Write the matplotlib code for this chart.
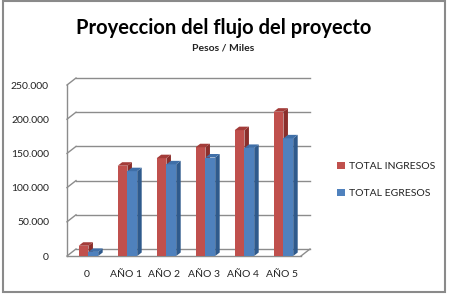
import matplotlib
matplotlib.use('Agg')
import matplotlib.pyplot as plt
from matplotlib.patches import Polygon, Rectangle, Patch

# Datos del gráfico
categorias = ['0', 'AÑO 1', 'AÑO 2', 'AÑO 3', 'AÑO 4', 'AÑO 5']
ingresos = [15000, 132000, 143000, 159000, 184000, 211000]
egresos = [6000, 124000, 134000, 144000, 158000, 172000]
series = ['TOTAL INGRESOS', 'TOTAL EGRESOS']
valores_y = [0, 50000, 100000, 150000, 200000, 250000]
etiquetas_y = ['0', '50.000', '100.000', '150.000', '200.000', '250.000']

plt.rcParams['font.family'] = ['Lato', 'DejaVu Sans']

W, H = 449, 300
fig = plt.figure(figsize=(W / 100, H / 100), dpi=100)

# Borde del área del gráfico
fig.patches.append(Rectangle((3 / W, 1 - 292 / H), 442 / W, 291 / H,
                             transform=fig.transFigure, fill=False,
                             edgecolor='#8a8a8a', lw=1.5))

# Ejes (plano frontal)
ax_l, ax_r, ax_b, ax_t = 67, 301, 256, 85
ax = fig.add_axes([ax_l / W, 1 - ax_b / H, (ax_r - ax_l) / W, (ax_b - ax_t) / H])
ax.set_xlim(-0.5, len(categorias) - 0.5)
ax.set_ylim(0, 250000)
for s in ax.spines.values():
    s.set_visible(False)

# conversión pixel -> datos
px_x = len(categorias) / (ax_r - ax_l)
px_y = 250000 / (ax_b - ax_t)
dX, dY = 9 * px_x, 7 * px_y        # profundidad de las paredes
bX, bY = 4.5 * px_x, 3.5 * px_y    # profundidad de las barras

x0, x1 = -0.5, len(categorias) - 0.5
gris = '#8c8c8c'

# pared del fondo y pared lateral
for v in valores_y:
    ax.plot([x0 + dX, x1 + dX], [v + dY, v + dY], color=gris, lw=1, clip_on=False, zorder=1)
    ax.plot([x0, x0 + dX], [v, v + dY], color=gris, lw=1, clip_on=False, zorder=1)
ax.plot([x0, x0], [0, 250000], color=gris, lw=1, clip_on=False, zorder=1)
# piso
ax.plot([x0, x1], [0, 0], color=gris, lw=1, clip_on=False, zorder=1)
ax.plot([x1, x1 + dX], [0, dY], color=gris, lw=1, clip_on=False, zorder=1)

colores = [('#C0504D', '#A33C39', '#8B2E2B'),
           ('#4F81BD', '#3F6FA8', '#2F5A8C')]
ancho = 0.25
desp = 0.05


def barra3d(x, v, c):
    frente, arriba, lado = c
    ax.bar(x, v, width=ancho, align='edge', color=frente, zorder=3)
    ax.add_patch(Polygon([(x + ancho, 0), (x + ancho + bX, bY), (x + ancho + bX, v + bY), (x + ancho, v)],
                         closed=True, facecolor=lado, edgecolor='none', zorder=3))
    ax.add_patch(Polygon([(x, v), (x + ancho, v), (x + ancho + bX, v + bY), (x + bX, v + bY)],
                         closed=True, facecolor=arriba, edgecolor='none', zorder=3))


for i in range(len(categorias)):
    barra3d(i - ancho + desp, ingresos[i], colores[0])
    barra3d(i + desp, egresos[i], colores[1])

ax.set_yticks(valores_y)
ax.set_yticklabels(etiquetas_y, fontsize=7.5, color='#222222')
ax.set_xticks(range(len(categorias)))
ax.set_xticklabels(categorias, fontsize=7.5, color='#222222')
ax.tick_params(axis='y', length=0, pad=13)
ax.tick_params(axis='x', length=0, pad=10)

# Títulos
fig.text(224 / W, 1 - 28 / H, 'Proyeccion del flujo del proyecto', ha='center', va='center',
         fontsize=14.5, fontweight='bold', color='black')
fig.text(223 / W, 1 - 48 / H, 'Pesos / Miles', ha='center', va='center',
         fontsize=7.5, fontweight='bold', color='#222222')

# Leyenda
handles = [Patch(facecolor=colores[0][0]), Patch(facecolor=colores[1][0])]
fig.legend(handles, series, loc='center left', bbox_to_anchor=(328 / W, 1 - 180 / H),
           frameon=False, handlelength=0.7, handleheight=0.7, handletextpad=0.4,
           labelspacing=1.7, fontsize=7.5, labelcolor='#222222')

fig.savefig('out.png', dpi=100)
